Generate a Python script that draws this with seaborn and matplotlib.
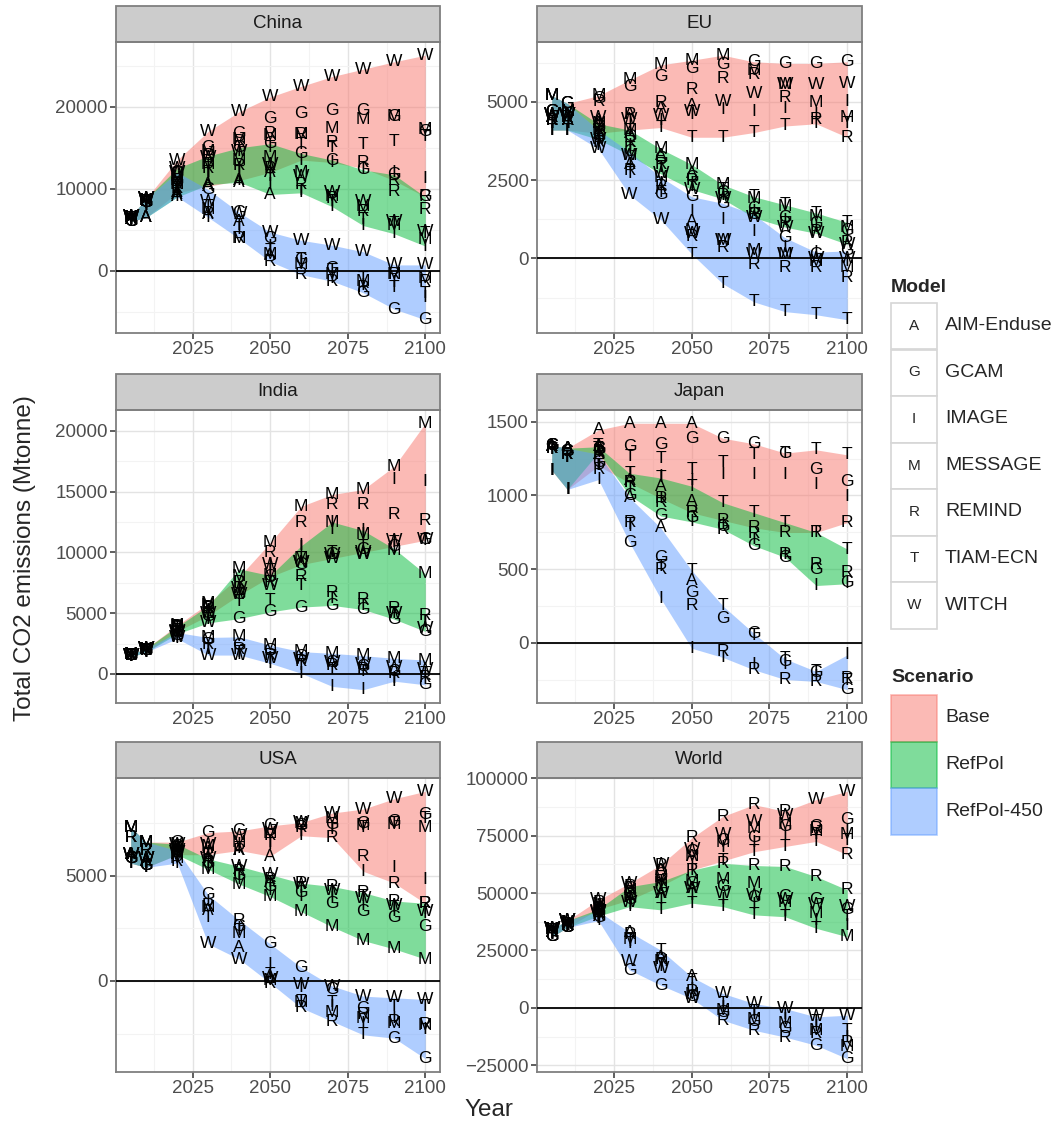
import numpy as np
import pandas as pd
import matplotlib
matplotlib.use("Agg")
import matplotlib.pyplot as plt
from matplotlib.patches import Rectangle
from matplotlib.ticker import AutoMinorLocator, FixedLocator
import seaborn as sns

N = np.nan
YEARS_HIST = [2005, 2010]
YEARS_PROJ = [2020, 2030, 2040, 2050, 2060, 2070, 2080, 2090, 2100]
REGIONS = ["China", "EU", "India", "Japan", "USA", "World"]
SCENARIOS = ["Base", "RefPol", "RefPol-450"]
SCEN_COLORS = ["#F8766D", "#00BA38", "#619CFF"]
LETTERS = ["A", "G", "I", "M", "R", "T", "W"]
MODELS = ["AIM-Enduse", "GCAM", "IMAGE", "MESSAGE", "REMIND", "TIAM-ECN", "WITCH"]
YTICKS = {
    "China": [0, 10000, 20000],
    "EU": [0, 2500, 5000],
    "India": [0, 5000, 10000, 15000, 20000],
    "Japan": [0, 500, 1000, 1500],
    "USA": [0, 5000],
    "World": [-25000, 0, 25000, 50000, 75000, 100000],
}

# ---- China ----
CHINA_HIST = {"A": [6300, 6500], "G": [6000, 8300], "I": [6200, 8000], "M": [6500, 8600],
              "R": [6400, 8400], "T": [6100, 8200], "W": [6600, 8800]}
CHINA_BASE = {
    "A": [9500, 10300, 11000, 12000, N, N, N, N, N],
    "G": [12000, 15000, 16800, 18600, 19200, 19500, 19500, 18800, 17000],
    "I": [10000, 12000, 12500, 12300, 13500, 13200, 12500, 12000, 11300],
    "M": [11500, 14500, 16000, 16500, 16600, 17400, 18400, 18800, 17200],
    "R": [11000, 14000, 15800, 16800, 16600, 15600, 13200, 11000, 9000],
    "T": [10500, 13000, 14500, 15000, 15400, 15000, 15400, 15800, 16400],
    "W": [13500, 17000, 19400, 21200, 22500, 23700, 24600, 25500, 26300],
}
CHINA_REFPOL = {
    "A": [9000, 10500, 10800, 9300, N, N, N, N, N],
    "G": [11800, 14000, 15000, 15500, 14300, 13500, 12300, 11700, 9000],
    "I": [9500, 11500, 11000, 10500, 9800, 7800, 5500, 4500, 3000],
    "M": [11000, 13000, 13500, 13800, 12000, 9000, 7800, 5500, 3800],
    "R": [10500, 12500, 12800, 12500, 10500, 8800, 7200, 9700, 7500],
    "T": [10000, 12000, 12000, 11500, 9500, 8500, 6200, 5800, 4500],
    "W": [12500, 13800, 14500, 13000, 11500, 9500, 8500, 6000, 4800],
}
CHINA_450 = {
    "A": [9300, 6800, 6000, 1800, N, N, N, N, N],
    "G": [11000, 9900, 7100, 3900, 1300, 200, -2700, -4700, -6000],
    "I": [9000, 6500, 5000, 3000, 1000, -1000, -1800, -1500, -3300],
    "M": [10500, 7500, 3900, 2000, 800, -500, -1300, -500, -1000],
    "R": [10000, 7000, 3900, 1100, -500, -1300, -2000, -500, -1300],
    "T": [9500, 7800, 5500, 2500, 1300, 0, -1000, -2100, -2800],
    "W": [12000, 8500, 7000, 4700, 3700, 3100, 2300, 700, 700],
}

# ---- EU ----
EU_HIST = {"A": [4500, 4400], "G": [4700, 4950], "I": [4300, 4300], "M": [5200, 4700],
           "R": [4400, 4500], "T": [4100, 4100], "W": [4600, 4600]}
EU_BASE = {
    "A": [4400, 4600, 4800, 4900, N, N, N, N, N],
    "G": [5100, 5500, 5800, 6070, 6180, 6280, 6230, 6230, 6280],
    "I": [4300, 4300, 4400, 4600, 4760, 4700, 4800, 4600, 5000],
    "M": [5200, 5700, 6180, 6330, 6490, 6000, 5550, 4970, 4500],
    "R": [5000, 4600, 4970, 5390, 5750, 5860, 5130, 4440, 3870],
    "T": [4000, 4100, 4180, 3870, 3870, 4020, 4230, 4300, 4300],
    "W": [4500, 4450, 4550, 4700, 5020, 5280, 5550, 5550, 5600],
}
EU_REFPOL = {
    "A": [4300, 4000, 3300, 2700, N, N, N, N, N],
    "G": [4200, 3900, 3200, 2600, 2100, 1600, 1300, 1100, 900],
    "I": [4000, 3600, 2900, 2400, 2000, 1500, 1200, 1000, 700],
    "M": [4300, 4100, 3500, 3000, 2350, 1900, 1650, 1350, 1000],
    "R": [4100, 3700, 3000, 2500, 2000, 1400, 1100, 850, 500],
    "T": [4000, 3500, 2900, 2300, 2200, 1970, 1710, 1450, 1150],
    "W": [3800, 3300, 2700, 2200, 1900, 1300, 1000, 800, 450],
}
EU_450 = {
    "A": [4000, 3000, 2200, 1190, N, N, N, N, N],
    "G": [3900, 3400, 2030, 1970, 1760, 1400, 660, 140, 240],
    "I": [3800, 3000, 2400, 1500, 1240, 870, 350, 200, -100],
    "M": [4100, 3300, 2600, 900, 560, 240, 140, -100, -300],
    "R": [3700, 2800, 2300, 700, 350, -180, -280, -280, -600],
    "T": [3600, 2700, 2100, 140, -810, -1390, -1700, -1800, -1960],
    "W": [3500, 2030, 1240, 800, 560, 140, 140, 0, 0],
}

# ---- India ----
INDIA_HIST = {"G": [1500, 1900], "I": [1400, 1800], "M": [1600, 2000],
              "R": [1500, 1950], "T": [1450, 1850], "W": [1550, 2100]}
INDIA_BASE = {
    "G": [3800, 5000, 6500, 8000, 9000, 9860, 10270, 10500, 11090],
    "I": [3700, 5200, 7000, 9000, 10400, 11900, 11500, 16000, 15860],
    "M": [4000, 5800, 8000, 10800, 13800, 14770, 15180, 17090, 20630],
    "R": [3900, 5500, 7500, 10000, 12450, 13950, 13950, 13130, 12590],
    "T": [3600, 4800, 6500, 8500, 9500, 10000, 10500, 10800, 11000],
    "W": [3500, 5000, 7000, 9000, 9200, 9500, 10000, 10950, 11090],
}
INDIA_REFPOL = {
    "G": [3700, 4700, 4550, 5100, 5500, 5640, 5300, 4500, 3500],
    "I": [3500, 5200, 7000, 8000, 10550, 12500, 11800, 10300, 4200],
    "M": [3900, 5600, 8640, 8100, 9500, 12500, 11500, 10140, 8230],
    "R": [3800, 5400, 7500, 7500, 8000, 6700, 6100, 5370, 4800],
    "T": [3300, 4500, 6000, 6050, 7300, 6200, 5600, 5000, 4300],
    "W": [3400, 4200, 6500, 7300, 9200, 9800, 9800, 5000, 3700],
}
INDIA_450 = {
    "G": [3200, 2800, 2300, 1900, 1400, 900, 600, 200, -900],
    "I": [3000, 2200, 1600, 870, 50, -1030, -1300, -400, -500],
    "M": [3400, 3000, 3050, 2370, 1830, 1690, 1500, 1280, 1140],
    "R": [3100, 2400, 2000, 1500, 1000, 700, 400, 0, -300],
    "T": [2900, 2000, 1800, 1200, 700, 400, 200, -600, 0],
    "W": [3000, 1550, 1550, 1300, 1200, 900, 800, 500, 400],
}

# ---- Japan ----
JAPAN_HIST = {"A": [1330, 1320], "G": [1340, 1300], "I": [1170, 1040],
              "R": [1320, 1280], "T": [1310, 1260]}
JAPAN_BASE = {
    "A": [1444, 1489, 1489, 1489, N, N, N, N, N],
    "G": [1320, 1330, 1343, 1388, 1388, 1350, 1287, 1175, 1096],
    "I": [1200, 1150, 1130, 1100, 1140, 1140, 1140, 1073, 995],
    "R": [1290, 1085, 980, 882, 830, 780, 748, 748, 815],
    "T": [1340, 1265, 1253, 1175, 1220, 1275, 1287, 1309, 1275],
}
JAPAN_REFPOL = {
    "A": [1330, 1100, 1062, 961, N, N, N, N, N],
    "G": [1310, 1000, 860, 850, 790, 658, 580, 500, 411],
    "I": [1290, 1050, 980, 820, 800, 700, 600, 388, 400],
    "R": [1300, 1085, 950, 882, 770, 740, 600, 534, 478],
    "T": [1320, 1150, 1118, 1062, 950, 882, 815, 748, 635],
}
JAPAN_450 = {
    "A": [1280, 985, 780, 420, N, N, N, N, N],
    "G": [1220, 680, 580, 343, 164, 63, -128, -200, -319],
    "I": [1107, 790, 300, -38, -100, -150, -150, -230, -83],
    "R": [1175, 815, 500, 254, -60, -184, -250, -263, -240],
    "T": [1200, 800, 520, 490, 250, 50, -110, -195, -260],
}

# ---- USA ----
USA_HIST = {"A": [6000, 5700], "G": [5800, 5500], "I": [5900, 5600], "M": [7300, 6600],
            "R": [6800, 6200], "T": [5600, 5400], "W": [6000, 5800]}
USA_BASE = {
    "A": [6400, 6300, 6200, 5930, N, N, N, N, N],
    "G": [6600, 7050, 7130, 7370, 7400, 7450, 7500, 7600, 7890],
    "I": [6200, 6100, 6500, 6600, 7100, 7300, 5210, 5400, 4810],
    "M": [6500, 6400, 6600, 7000, 7500, 7700, 7400, 7450, 7290],
    "R": [6300, 6000, 6200, 6890, 7300, 6810, 5930, 4650, 3690],
    "T": [6000, 6000, 6300, 6500, 6900, 7200, 7300, 7500, 7700],
    "W": [6200, 6500, 6890, 7200, 7530, 7980, 8170, 8660, 9010],
}
USA_REFPOL = {
    "A": [6300, 5800, 5300, 4700, N, N, N, N, N],
    "G": [6400, 5600, 5000, 4500, 4200, 3700, 3300, 3000, 2600],
    "I": [6200, 5500, 4800, 4300, 4000, 3900, 3600, 3300, 3400],
    "M": [6000, 5300, 4600, 4010, 3290, 2570, 1920, 1520, 1040],
    "R": [6100, 5700, 5200, 4800, 4650, 4490, 4200, 3800, 3690],
    "T": [6000, 5400, 5000, 4700, 4400, 4200, 4000, 3500, 3200],
    "W": [6500, 5800, 5450, 5050, 4600, 4300, 3900, 3600, 3300],
}
USA_450 = {
    "A": [6000, 3370, 1600, 200, N, N, N, N, N],
    "G": [6200, 4090, 2600, 1760, 640, -400, -1300, -2720, -3690],
    "I": [5900, 3800, 2500, 800, -300, -1200, -2000, -1800, -2300],
    "M": [5800, 3500, 2240, 0, -1000, -1500, -1800, -2000, -2100],
    "R": [5700, 3600, 2890, -100, -1280, -1920, -1600, -1920, -2080],
    "T": [5600, 3000, 2400, 300, -960, -1000, -2560, -1200, -1200],
    "W": [6100, 1760, 1040, 100, -160, -240, -720, -800, -880],
}

# ---- World ----
WORLD_HIST = {"A": [33000, 36000], "G": [31000, 35000], "I": [32000, 36000], "M": [34000, 37000],
              "R": [33500, 36500], "T": [32500, 35500], "W": [34500, 38000]}
WORLD_BASE = {
    "A": [44000, 52000, 60000, 66000, N, N, N, N, N],
    "G": [44500, 50000, 58000, 68000, 73000, 74000, 79000, 79100, 82000],
    "I": [43000, 48000, 55000, 62000, 70000, 72000, 75000, 75400, 77000],
    "M": [45000, 51000, 57000, 66000, 72000, 78000, 80000, 77000, 75400],
    "R": [46000, 52000, 62000, 74000, 83400, 88500, 85600, 78000, 66700],
    "T": [43000, 47000, 53000, 60000, 64000, 68000, 70300, 72500, 73000],
    "W": [47000, 54300, 62300, 68900, 75400, 81200, 84000, 90700, 94300],
}
WORLD_REFPOL = {
    "A": [43000, 48000, 50000, 52000, N, N, N, N, N],
    "G": [42000, 47000, 52000, 54000, 52800, 48000, 48500, 47000, 42700],
    "I": [41000, 45000, 47000, 49000, 47000, 45000, 42000, 38000, 36000],
    "M": [42500, 48000, 54300, 55000, 55800, 54300, 46000, 41000, 31000],
    "R": [43000, 52800, 55000, 60000, 63000, 62000, 61600, 57200, 51400],
    "T": [40000, 44100, 42700, 45600, 44100, 40500, 39700, 34650, 39700],
    "W": [41500, 46000, 50000, 52000, 50000, 49000, 47000, 45000, 44000],
}
WORLD_450 = {
    "A": [40000, 33000, 22000, 13500, N, N, N, N, N],
    "G": [39500, 16500, 9900, 5000, -2000, -6000, -9000, -16300, -22100],
    "I": [38000, 29000, 18000, 8000, 0, -3000, -5000, -8000, -12700],
    "M": [40500, 30000, 20000, 6000, -1000, -5000, -7000, -10000, -17000],
    "R": [41000, 32000, 21000, 7000, -5400, -9750, -12700, -11200, -15000],
    "T": [39000, 28100, 25200, 12000, 2000, -1500, -3000, -6000, -10000],
    "W": [42000, 20100, 17000, 4100, 6300, 1900, -300, -3900, -3200],
}

DATA = {
    "China": (CHINA_HIST, CHINA_BASE, CHINA_REFPOL, CHINA_450),
    "EU": (EU_HIST, EU_BASE, EU_REFPOL, EU_450),
    "India": (INDIA_HIST, INDIA_BASE, INDIA_REFPOL, INDIA_450),
    "Japan": (JAPAN_HIST, JAPAN_BASE, JAPAN_REFPOL, JAPAN_450),
    "USA": (USA_HIST, USA_BASE, USA_REFPOL, USA_450),
    "World": (WORLD_HIST, WORLD_BASE, WORLD_REFPOL, WORLD_450),
}

# long table: history years are shared by every scenario
rows = []
for region, (hist, *scens) in DATA.items():
    for scen, proj in zip(SCENARIOS, scens):
        for letter, vals in proj.items():
            for year, v in zip(YEARS_HIST + YEARS_PROJ, hist[letter] + vals):
                rows.append((region, scen, letter, year, v))
df = pd.DataFrame(rows, columns=["Region", "Scenario", "Letter", "Year", "Value"]).dropna()

sns.set_theme(style="whitegrid")
plt.rcParams["font.family"] = ["Liberation Sans", "DejaVu Sans"]

W, H = 1056, 1133
fig = plt.figure(figsize=(W / 100, H / 100), dpi=100)
COLS = [(116, 440), (537, 862)]
ROWS = [(42, 333), (410, 703), (778, 1072)]
STRIP = 36

for i, region in enumerate(REGIONS):
    r, c = divmod(i, 2)
    (x0, x1), (y0, y1) = COLS[c], ROWS[r]
    ax = fig.add_axes([x0 / W, 1 - y1 / H, (x1 - x0) / W, (y1 - y0) / H])
    sub = df[df.Region == region]

    # min-max band across models for each scenario
    sns.lineplot(data=sub, x="Year", y="Value", hue="Scenario", hue_order=SCENARIOS,
                 palette=SCEN_COLORS, errorbar=lambda v: (v.min(), v.max()),
                 err_kws={"alpha": 0.5, "linewidth": 0}, linewidth=0, legend=False, ax=ax)
    ax.axhline(0, color="black", lw=1.3, zorder=3)
    for row in sub.itertuples():
        ax.text(row.Year, row.Value, row.Letter, ha="center", va="center",
                fontsize=12.5, color="black", zorder=4)

    lo, hi = sub.Value.min(), sub.Value.max()
    pad = 0.05 * (hi - lo)
    ax.set_xlim(2000.25, 2104.75)
    ax.set_xticks([2025, 2050, 2075, 2100])
    ax.xaxis.set_minor_locator(FixedLocator([2012.5, 2037.5, 2062.5, 2087.5]))
    ax.set_yticks(YTICKS[region])
    ax.yaxis.set_minor_locator(AutoMinorLocator(2))
    ax.set_ylim(lo - pad, hi + pad)
    ax.set_xlabel("")
    ax.set_ylabel("")
    ax.set_axisbelow(True)
    ax.grid(which="major", color="#e3e3e3", lw=1.0)
    ax.grid(which="minor", color="#f3f3f3", lw=0.8)
    ax.tick_params(which="major", bottom=True, left=True, length=4, width=1.1,
                   color="#333333", labelsize=13.5, labelcolor="#4d4d4d", pad=2)
    ax.tick_params(which="minor", length=0)
    for sp in ax.spines.values():
        sp.set_color("#7f7f7f")
        sp.set_linewidth(1.3)

    sh = STRIP / (y1 - y0)
    ax.add_patch(Rectangle((0, 1), 1, sh, transform=ax.transAxes, clip_on=False,
                           facecolor="#cccccc", edgecolor="#7f7f7f", lw=1.3))
    ax.text(0.5, 1 + sh / 2, region, transform=ax.transAxes, ha="center", va="center",
            fontsize=13.5, color="#1a1a1a")

fig.text(25 / W, 1 - 558 / H, "Total CO2 emissions (Mtonne)", rotation=90,
         ha="center", va="center", fontsize=17.5)
fig.text(489 / W, 1 - 1110 / H, "Year", ha="center", va="center", fontsize=17.5)


# legends
def fx(px):
    return px / W


def fy(py):
    return 1 - py / H


fig.text(fx(891), fy(287), "Model", ha="left", va="center", fontsize=14, fontweight="bold")
for k, (letter, name) in enumerate(zip(LETTERS, MODELS)):
    top = 303 + k * 46.5
    fig.add_artist(Rectangle((fx(891), fy(top + 46.5)), 46 / W, 46.5 / H,
                             transform=fig.transFigure, facecolor="white",
                             edgecolor="#d6d6d6", lw=1.2))
    fig.text(fx(914), fy(top + 23), letter, ha="center", va="center", fontsize=11)
    fig.text(fx(945), fy(top + 23), name, ha="left", va="center", fontsize=14)

fig.text(fx(891), fy(677), "Scenario", ha="left", va="center", fontsize=14, fontweight="bold")
for k, (scen, col) in enumerate(zip(SCENARIOS, SCEN_COLORS)):
    top = 695 + k * 46.5
    fig.add_artist(Rectangle((fx(891), fy(top + 46.5)), 46 / W, 46.5 / H,
                             transform=fig.transFigure, facecolor=col,
                             edgecolor=col, alpha=0.5, lw=1.2))
    fig.text(fx(945), fy(top + 23), scen, ha="left", va="center", fontsize=14)

fig.savefig("out.png", dpi=100)
